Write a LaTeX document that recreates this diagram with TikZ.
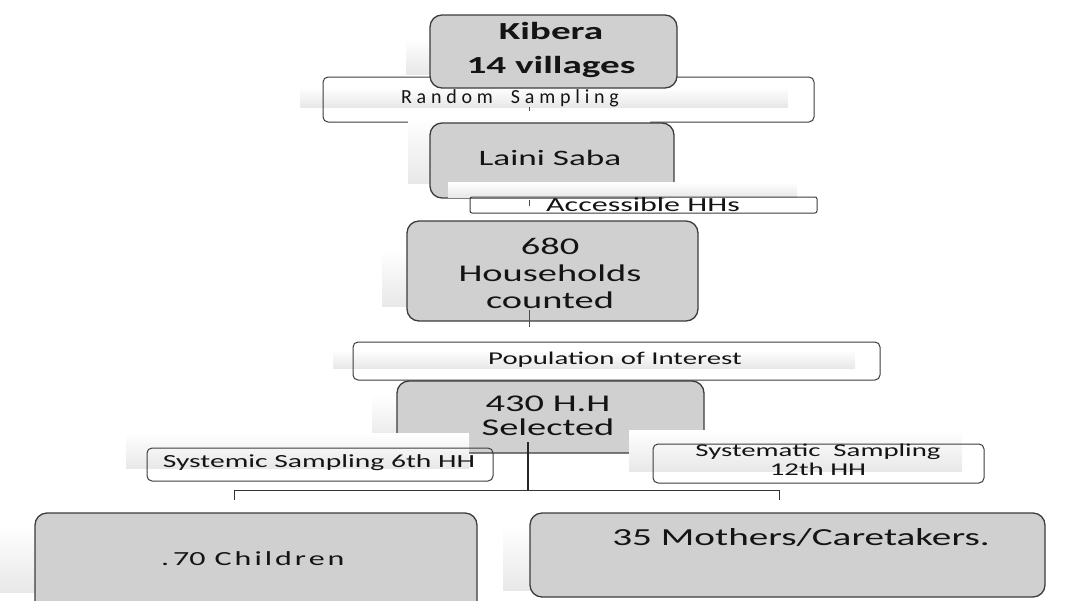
\documentclass[tikz,border=0pt]{standalone}
\usepackage{fontspec}
\setmainfont{Carlito}[FakeStretch=1.6]
\newfontfamily\plainfont{Carlito}
\usepackage{tikz}
\usetikzlibrary{positioning,calc}
\definecolor{boxgray}{RGB}{208,208,208}
\definecolor{boxline}{RGB}{60,60,60}
\tikzset{
  tile/.style={draw=boxline, fill=boxgray, rounded corners=12pt, line width=1.3pt, inner sep=0pt},
  band/.style={draw=boxline, rounded corners=5pt, line width=1pt, inner sep=0pt},
  glow/.style={top color=white, bottom color=black!9},
  lbl/.style={align=center, inner sep=0pt, text=black!92},
  tick/.style={draw=black!70, line width=0.8pt},
  stem/.style={draw=black!85, line width=1.8pt},
  fork/.style={draw=black!80, line width=1pt}}
\begin{document}
\begin{tikzpicture}[x=1pt, y=-1pt]
  \useasboundingbox (0,0) rectangle (1065,600);
  % random sampling
  \shade[glow] (300,87) rectangle (788,107);
  \node[band, minimum width=491pt, minimum height=45pt] (rand) at (568.5,99.5) {};
  \node[lbl, font=\plainfont\fontsize{20}{22}\selectfont\addfontfeatures{LetterSpace=24}] (randT) at (510,98) {Random\hspace{18pt}Sampling};
  \coordinate (r1) at (529,107); \coordinate (r2) at (529,111);
  \draw[tick] (r1) -- (r2);
  % kibera
  \shade[glow] (406,38) rectangle (653,74);
  \node[tile, minimum width=247pt, minimum height=73pt] (kib) at (553.5,51.5) {};
  \node[lbl, font=\bfseries\fontsize{24.5}{34}\selectfont] (kibT) at (551,50) {Kibera\\14 villages};
  % laini saba
  \shade[glow] (408,116) rectangle (650,183);
  \node[tile, minimum width=244pt, minimum height=75pt] (lai) at (552,160.5) {};
  \node[lbl, font=\fontsize{22}{26}\selectfont] (laiT) at (550,158) {Laini Saba};
  % accessible
  \shade[glow] (448,182) rectangle (797,197);
  \node[band, minimum width=347pt, minimum height=16pt, rounded corners=2pt] (acc) at (643.5,205) {};
  \node[lbl, font=\fontsize{20}{22}\selectfont] (accT) at (643,205) {Accessible HHs};
  \coordinate (a1) at (529,200); \coordinate (a2) at (529,206);
  \draw[tick] (a1) -- (a2);
  % 680 households
  \shade[glow] (382,250) rectangle (671,306);
  \node[tile, minimum width=291pt, minimum height=100pt] (hh) at (552.5,271) {};
  \node[lbl, font=\fontsize{24}{27}\selectfont] (hhT) at (550,273) {680\\Households\\counted};
  \coordinate (h1) at (529,310); \coordinate (h2) at (529,327);
  \draw[tick] (h1) -- (h2);
  % population
  \shade[glow] (333,350) rectangle (855,368);
  \node[band, minimum width=527pt, minimum height=38pt] (pop) at (616.5,361) {};
  \node[lbl, font=\fontsize{18}{20}\selectfont] (popT) at (615,360) {Population of Interest};
  % 430 selected
  \shade[glow] (372,395) rectangle (680,440);
  \node[tile, minimum width=307pt, minimum height=72pt] (sel) at (550.5,417) {};
  \shade[glow] (126,433) rectangle (469,468);
  \shade[glow] (629,430) rectangle (962,471);
  \node[lbl, font=\fontsize{24}{24}\selectfont] (selT) at (548,416) {430 H.H\\Selected};
  % sampling steps
  \node[band, minimum width=346pt, minimum height=33pt] (six) at (320,464.5) {};
  \node[lbl, font=\fontsize{18.5}{20}\selectfont] (sixT) at (319,463) {Systemic Sampling 6th HH};
  \node[band, minimum width=331pt, minimum height=39pt] (twe) at (818.5,463.5) {};
  \node[lbl, font=\fontsize{18}{19}\selectfont] (tweT) at (818,460) {Systematic\ \ Sampling\\12th HH};
  % fork
  \coordinate (s1) at (528,442); \coordinate (s2) at (528,490);
  \coordinate (legL) at (234,500); \coordinate (legR) at (779,500);
  \draw[stem] (s1) -- (s2);
  \draw[fork] (legL) -- (legL |- s2) -- (legR |- s2) -- (legR);
  % outcomes
  \shade[glow] (0,525) rectangle (452,592);
  \node[tile, minimum width=442pt, minimum height=102pt] (kids) at (256,564) {};
  \node[lbl, font=\fontsize{20}{22}\selectfont, anchor=west] (kidsT) at (161,559) {.\hspace{4pt}70\hspace{9pt}{\addfontfeatures{LetterSpace=15}Children}};
  \shade[glow] (503,525) rectangle (1000,590);
  \node[tile, minimum width=515pt, minimum height=84pt] (moms) at (787.5,555) {};
  \node[lbl, font=\fontsize{24.5}{26}\selectfont] (momsT) at (801,538) {35 Mothers/Caretakers.};
\end{tikzpicture}
\end{document}
